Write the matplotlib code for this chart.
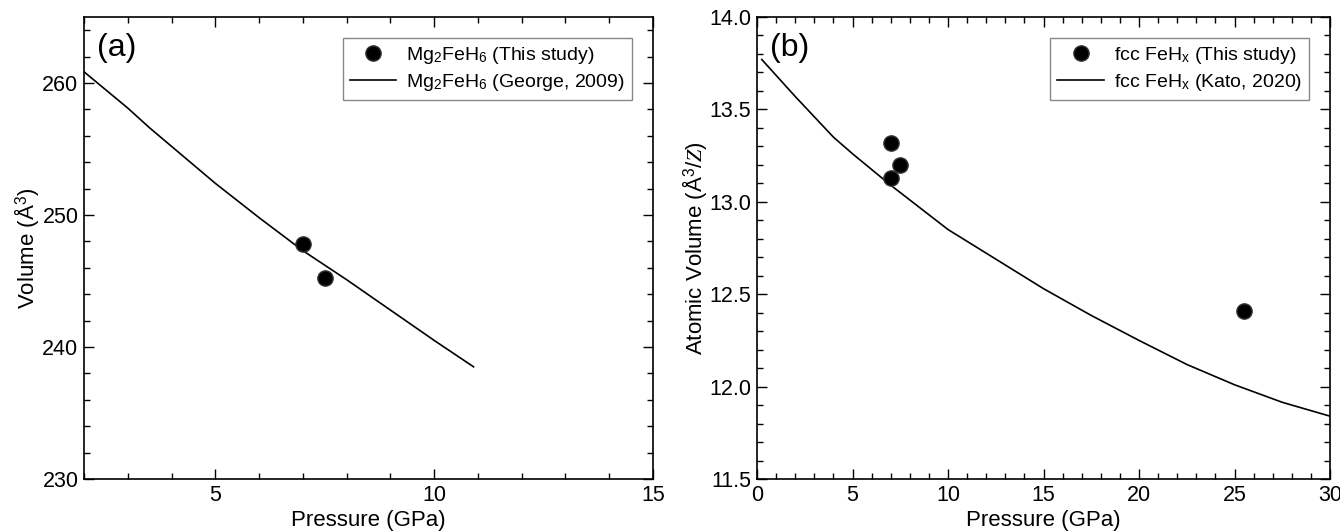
import numpy as np
import matplotlib.pyplot as plt
from matplotlib.ticker import MultipleLocator

plt.rcParams['font.family'] = ['Liberation Sans', 'DejaVu Sans']
plt.rcParams['mathtext.fontset'] = 'custom'
plt.rcParams['mathtext.rm'] = 'Liberation Sans'
plt.rcParams['mathtext.it'] = 'Liberation Serif:italic'

# (a) Mg2FeH6
p_mg_obs = [7.0, 7.5]
v_mg_obs = [247.8, 245.2]
p_mg_eos = [2.0, 3.0, 3.5, 4.0, 5.0, 6.0, 7.0, 8.0, 9.0, 10.0, 10.9]
v_mg_eos = [260.85, 258.1, 256.6, 255.2, 252.4, 249.8, 247.3, 245.1, 242.8, 240.5, 238.5]

# (b) fcc FeHx
p_fe_obs = [7.0, 7.0, 7.5, 25.5]
v_fe_obs = [13.32, 13.13, 13.20, 12.41]
p_fe_eos = [0.25, 2.0, 4.0, 5.0, 7.0, 10.0, 12.5, 15.0, 17.5, 20.0, 22.5, 25.0, 27.5, 30.0]
v_fe_eos = [13.77, 13.57, 13.35, 13.26, 13.09, 12.85, 12.69, 12.53, 12.385, 12.25, 12.12, 12.01, 11.915, 11.84]


def style_axes(ax):
    ax.tick_params(which='both', direction='in', top=True, right=True, labelsize=15.5, pad=4)
    ax.tick_params(which='major', length=7, width=1)
    ax.tick_params(which='minor', length=4, width=1)
    for s in ax.spines.values():
        s.set_linewidth(1.2)


fig = plt.figure(figsize=(13.4, 5.31), dpi=100)
ax1 = fig.add_axes([84 / 1340, 52 / 531, 569 / 1340, 462 / 531])
ax2 = fig.add_axes([757 / 1340, 52 / 531, 573 / 1340, 462 / 531])

leg_kw = dict(loc='upper right', fontsize=14, fancybox=False, edgecolor='#888888',
              framealpha=1, handlelength=2.4, handletextpad=0.5, borderaxespad=1.1,
              labelspacing=0.3, borderpad=0.35)

ax1.plot(p_mg_obs, v_mg_obs, 'o', color='black', mec='#333333', ms=11,
         label=r'Mg$_2$FeH$_6$ (This study)', zorder=3)
ax1.plot(p_mg_eos, v_mg_eos, '-', color='black', lw=1.2,
         label=r'Mg$_2$FeH$_6$ (George, 2009)')
ax1.set_xlim(2, 15)
ax1.set_ylim(230, 265)
ax1.xaxis.set_major_locator(MultipleLocator(5))
ax1.xaxis.set_minor_locator(MultipleLocator(1))
ax1.yaxis.set_major_locator(MultipleLocator(10))
ax1.yaxis.set_minor_locator(MultipleLocator(2))
ax1.set_xlabel('Pressure (GPa)', fontsize=16, labelpad=3)
ax1.set_ylabel('Volume (Å$^3$)', fontsize=16, labelpad=1)
ax1.text(0.022, 0.965, '(a)', transform=ax1.transAxes, fontsize=23, va='top')
style_axes(ax1)
leg1 = ax1.legend(**leg_kw)
leg1.get_frame().set_linewidth(1.0)

ax2.plot(p_fe_obs, v_fe_obs, 'o', color='black', mec='#333333', ms=11,
         label=r'fcc FeH$_\mathrm{x}$ (This study)', zorder=3)
ax2.plot(p_fe_eos, v_fe_eos, '-', color='black', lw=1.2,
         label=r'fcc FeH$_\mathrm{x}$ (Kato, 2020)')
ax2.set_xlim(0, 30)
ax2.set_ylim(11.5, 14.0)
ax2.xaxis.set_major_locator(MultipleLocator(5))
ax2.xaxis.set_minor_locator(MultipleLocator(1))
ax2.yaxis.set_major_locator(MultipleLocator(0.5))
ax2.yaxis.set_minor_locator(MultipleLocator(0.1))
ax2.yaxis.set_major_formatter(plt.FormatStrFormatter('%.1f'))
ax2.set_xlabel('Pressure (GPa)', fontsize=16, labelpad=3)
ax2.set_ylabel('Atomic Volume (Å$^3$/$Z$)', fontsize=16, labelpad=0)
ax2.text(0.022, 0.965, '(b)', transform=ax2.transAxes, fontsize=23, va='top')
style_axes(ax2)
leg2 = ax2.legend(**leg_kw)
leg2.get_frame().set_linewidth(1.0)

fig.savefig('out.png', dpi=100)
